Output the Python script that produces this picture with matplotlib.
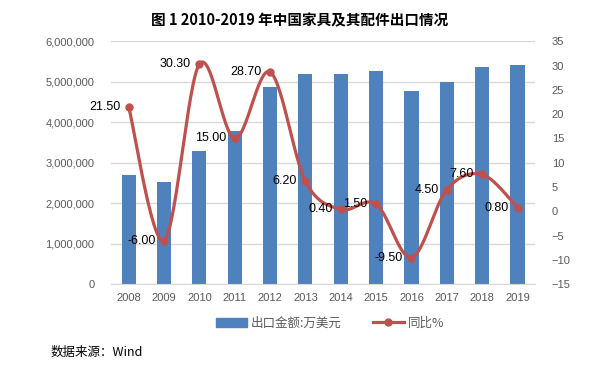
import matplotlib.pyplot as plt
import numpy as np

plt.rcParams['font.family'] = ['Liberation Sans', 'Noto Sans CJK SC', 'DejaVu Sans']

years = ['2008', '2009', '2010', '2011', '2012', '2013', '2014', '2015', '2016', '2017', '2018', '2019']
export_value = [2700000, 2530000, 3300000, 3790000, 4880000, 5190000, 5190000, 5270000,
                4770000, 5000000, 5370000, 5410000]
yoy = [21.5, -6.0, 30.3, 15.0, 28.7, 6.2, 0.4, 1.5, -9.5, 4.5, 7.6, 0.8]

bar_color = '#4F81BD'
line_color = '#C0504D'
tick_color = '#595959'


def smooth(xs, ys, n=30):
    # Catmull-Rom style bezier, like Excel's smoothed line
    xs = np.asarray(xs, float)
    ys = np.asarray(ys, float)
    px = np.concatenate([[xs[0]], xs, [xs[-1]]])
    py = np.concatenate([[ys[0]], ys, [ys[-1]]])
    out_x, out_y = [], []
    t = np.linspace(0, 1, n)
    for i in range(1, len(px) - 2):
        p0 = np.array([px[i], py[i]])
        p3 = np.array([px[i + 1], py[i + 1]])
        c1 = p0 + (np.array([px[i + 1], py[i + 1]]) - np.array([px[i - 1], py[i - 1]])) / 6
        c2 = p3 - (np.array([px[i + 2], py[i + 2]]) - np.array([px[i], py[i]])) / 6
        pts = ((1 - t) ** 3)[:, None] * p0 + (3 * (1 - t) ** 2 * t)[:, None] * c1 \
            + (3 * (1 - t) * t ** 2)[:, None] * c2 + (t ** 3)[:, None] * p3
        out_x.extend(pts[:, 0])
        out_y.extend(pts[:, 1])
    return out_x, out_y


fig = plt.figure(figsize=(6, 3.7), dpi=100)
ax = fig.add_axes([0.185, 0.2316, 0.707, 0.6568])
x = np.arange(len(years))

ax.bar(x, export_value, width=0.4, color=bar_color, zorder=2, label='出口金额:万美元')
ax.set_ylim(0, 6000000)
ax.set_xlim(-0.5, len(years) - 0.5)
ax.set_yticks(np.arange(0, 6000001, 1000000))
ax.set_yticklabels([f'{v:,}' for v in range(0, 6000001, 1000000)])
ax.set_xticks(x)
ax.set_xticklabels(years)
ax.grid(axis='y', color='#D9D9D9', linewidth=1, zorder=0)
ax.set_axisbelow(True)
for s in ['top', 'left', 'right']:
    ax.spines[s].set_visible(False)
ax.spines['bottom'].set_color('#D9D9D9')
ax.tick_params(length=0, colors=tick_color, labelsize=8)
ax.tick_params(axis='x', pad=6)
ax.tick_params(axis='y', pad=12)

ax2 = ax.twinx()
ax2.set_ylim(-15, 35)
ax2.set_yticks(np.arange(-15, 36, 5))
for s in ['top', 'left', 'right', 'bottom']:
    ax2.spines[s].set_visible(False)
ax2.tick_params(length=0, colors=tick_color, labelsize=8, pad=12)

sx, sy = smooth(x, yoy)
ax2.plot(sx, sy, color=line_color, linewidth=2.3, zorder=3)
ax2.plot(x, yoy, 'o', color=line_color, markersize=5, zorder=4)
for xi, v in zip(x, yoy):
    ax2.annotate(f'{v:.2f}', (xi, v), xytext=(-6, 0), textcoords='offset points',
                 ha='right', va='center', fontsize=9, color='black', zorder=5)

h1 = plt.Rectangle((0, 0), 1, 1, color=bar_color)
h2 = plt.Line2D([], [], color=line_color, linewidth=2.3, marker='o', markersize=5)
fig.legend([h1, h2], ['出口金额:万美元', '同比%'], loc='center', bbox_to_anchor=(0.55, 0.127),
           ncol=2, frameon=False, fontsize=9, handlelength=2.5, columnspacing=2.5,
           labelcolor=tick_color, handletextpad=0.3,
           prop={'family': ['Noto Sans CJK SC'], 'size': 9})

fig.text(0.5, 0.945, '图 1 2010-2019 年中国家具及其配件出口情况', ha='center', va='center',
         fontsize=10.5, fontweight='bold', family=['Noto Sans CJK SC'])
fig.text(0.085, 0.048, '数据来源：Wind', ha='left', va='center', fontsize=9,
         family=['Noto Sans CJK SC'])

fig.savefig('out.png', dpi=100)
